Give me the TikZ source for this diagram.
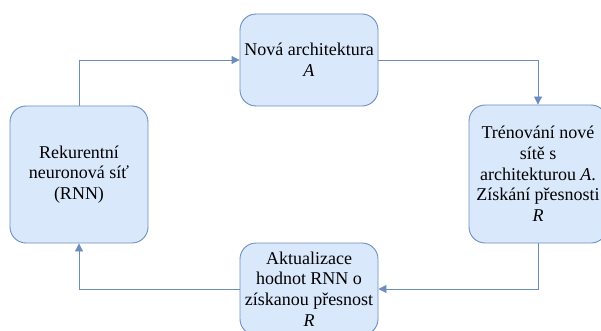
\documentclass[tikz,border=0pt]{standalone}
\usepackage{fontspec}
\setmainfont{Liberation Serif}
\newfontfamily\boxfont{Liberation Serif}
\usetikzlibrary{arrows.meta}
\definecolor{boxfill}{HTML}{DAE8FC}
\definecolor{boxline}{HTML}{6C8EBF}
\begin{document}
\begin{tikzpicture}[x=1pt,y=1pt,
  stepbox/.style={draw=boxline, fill=boxfill, line width=0.9pt,
    rounded corners=16pt, minimum width=138pt, align=center,
    inner sep=0pt, font=\boxfont\fontsize{18}{20.7}\selectfont},
  flow/.style={draw=boxline, line width=0.9pt,
    -{Triangle[length=8pt,width=8pt]}}]
  \useasboundingbox (0,0) rectangle (601,-331);
  \clip (0,0) rectangle (601,-331);

  % process steps
  \node[stepbox, minimum height=92pt] (arch) at (309,-60)
    {Nová architektura\\\textit{A}};
  \node[stepbox, minimum height=137pt] (rnn) at (79,-174.5)
    {Rekurentní\\neuronová síť\\(RNN)};
  \node[stepbox, minimum height=138pt] (train) at (538,-174)
    {Trénování nové\\sítě s\\architekturou \textit{A}.\\Získání přesnosti\\\textit{R}};
  \node[stepbox, minimum height=92pt] (update) at (309,-289)
    {Aktualizace\\hodnot RNN o\\získanou přesnost\\\textit{R}};

  % feedback loop
  \draw[flow] (rnn.north) |- (arch.west);
  \draw[flow] (arch.east) -| (train.north);
  \draw[flow] (train.south) |- (update.east);
  \draw[flow] (update.west) -| (rnn.south);
\end{tikzpicture}
\end{document}
